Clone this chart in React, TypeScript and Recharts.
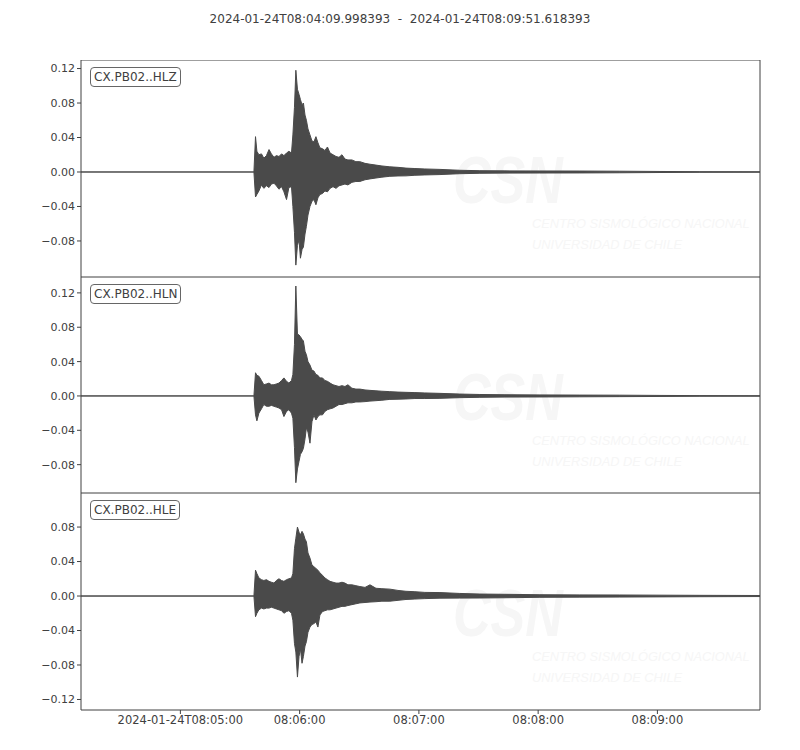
import { AreaChart, Area, XAxis, YAxis, ReferenceArea } from "recharts";

// seconds since 2024-01-24T08:04:09.998393
const times = [
  0, 87, 87.8, 88.5, 89.5, 90.8, 92, 93.3, 94.6, 95.8, 97.1, 98.3, 99.6,
  100.9, 102.1, 103.4, 104.6, 105.9, 106.6, 107.4, 108.1, 108.9, 109.7,
  110.4, 111.2, 111.9, 112.7, 113.4, 114.2, 115.2, 116.2, 117.2, 118.2,
  119.2, 120.2, 121.5, 122.7, 124, 125.3, 126.8, 128.3, 129.8, 131.3,
  132.8, 134.3, 136.3, 138.3, 140.3, 142.9, 145.4, 148.4, 151.4, 155.4,
  159.5, 163.5, 168, 173, 180.6, 190.6, 200.7, 213.3, 230.9, 251,
  271.1, 291.3, 311.4, 341.6,
];

const hlzHigh = [
  0, 0,
  0.041, 0.024, 0.02, 0.021, 0.016, 0.019, 0.026, 0.021, 0.017, 0.019, 0.018,
  0.021, 0.019, 0.022, 0.024, 0.022, 0.043, 0.075, 0.118, 0.096, 0.09,
  0.084, 0.078, 0.08, 0.066, 0.06, 0.05, 0.043, 0.036, 0.035, 0.041,
  0.034, 0.028, 0.027, 0.025, 0.029, 0.022, 0.02, 0.018, 0.017, 0.02,
  0.015, 0.014, 0.014, 0.012, 0.012, 0.01, 0.009, 0.008, 0.007, 0.006,
  0.0054, 0.0045, 0.004, 0.0035, 0.003, 0.002, 0.0015, 0.0013, 0.0012, 0.0011,
  0.0009, 0.0006, 0.0004, 0.0003,
];
const hlzLow = [
  0, 0,
  -0.029, -0.026, -0.022, -0.015, -0.019, -0.016, -0.018, -0.014, -0.013, -0.016, -0.02,
  -0.017, -0.023, -0.032, -0.018, -0.017, -0.04, -0.07, -0.108, -0.085, -0.079,
  -0.1, -0.09, -0.087, -0.072, -0.063, -0.05, -0.04, -0.034, -0.032, -0.038,
  -0.03, -0.026, -0.025, -0.022, -0.023, -0.019, -0.017, -0.019, -0.016, -0.015,
  -0.014, -0.015, -0.012, -0.011, -0.011, -0.009, -0.008, -0.007, -0.006, -0.005,
  -0.0046, -0.0045, -0.0038, -0.0034, -0.003, -0.002, -0.0015, -0.0013, -0.0012, -0.0011,
  -0.0009, -0.0006, -0.0004, -0.0003,
];

const hlnHigh = [
  0, 0,
  0.027, 0.024, 0.023, 0.018, 0.013, 0.014, 0.015, 0.013, 0.013, 0.014, 0.015,
  0.018, 0.021, 0.017, 0.015, 0.018, 0.025, 0.06, 0.128, 0.072, 0.071,
  0.069, 0.066, 0.064, 0.052, 0.048, 0.04, 0.036, 0.03, 0.029, 0.025,
  0.024, 0.021, 0.021, 0.018, 0.017, 0.015, 0.013, 0.012, 0.011, 0.012,
  0.011, 0.013, 0.009, 0.008, 0.008, 0.007, 0.0065, 0.006, 0.0055, 0.005,
  0.0045, 0.0042, 0.0039, 0.0035, 0.003, 0.0022, 0.0017, 0.0014, 0.0012, 0.001,
  0.0009, 0.0006, 0.0004, 0.0003,
];
const hlnLow = [
  0, 0,
  -0.022, -0.029, -0.02, -0.015, -0.01, -0.012, -0.012, -0.011, -0.012, -0.013, -0.014,
  -0.016, -0.024, -0.018, -0.016, -0.02, -0.026, -0.06, -0.101, -0.085, -0.076,
  -0.068, -0.065, -0.061, -0.05, -0.037, -0.042, -0.055, -0.03, -0.022, -0.028,
  -0.024, -0.022, -0.022, -0.018, -0.016, -0.015, -0.014, -0.012, -0.01, -0.01,
  -0.009, -0.008, -0.008, -0.007, -0.007, -0.0066, -0.006, -0.0055, -0.005, -0.004,
  -0.0038, -0.0035, -0.003, -0.003, -0.0028, -0.002, -0.0016, -0.0013, -0.0012, -0.001,
  -0.0008, -0.0006, -0.0004, -0.0003,
];

const hleHigh = [
  0, 0,
  0.03, 0.026, 0.021, 0.019, 0.018, 0.019, 0.017, 0.016, 0.015, 0.018, 0.02,
  0.018, 0.017, 0.019, 0.02, 0.021, 0.026, 0.055, 0.067, 0.08, 0.074,
  0.071, 0.075, 0.072, 0.066, 0.063, 0.05, 0.044, 0.036, 0.034, 0.032,
  0.03, 0.027, 0.024, 0.021, 0.019, 0.017, 0.016, 0.015, 0.015, 0.016,
  0.015, 0.013, 0.013, 0.012, 0.011, 0.01, 0.013, 0.009, 0.0085, 0.008,
  0.0065, 0.0055, 0.005, 0.0042, 0.004, 0.003, 0.0023, 0.002, 0.0015, 0.0013,
  0.0012, 0.001, 0.0008, 0.0006,
];
const hleLow = [
  0, 0,
  -0.024, -0.02, -0.016, -0.014, -0.015, -0.014, -0.014, -0.013, -0.014, -0.015, -0.016,
  -0.017, -0.02, -0.018, -0.017, -0.02, -0.028, -0.055, -0.065, -0.094, -0.07,
  -0.061, -0.078, -0.07, -0.058, -0.053, -0.042, -0.036, -0.033, -0.032, -0.03,
  -0.036, -0.022, -0.018, -0.017, -0.016, -0.016, -0.015, -0.014, -0.013, -0.012,
  -0.012, -0.011, -0.01, -0.009, -0.008, -0.0075, -0.007, -0.0066, -0.006, -0.006,
  -0.005, -0.004, -0.0035, -0.003, -0.0025, -0.0024, -0.0023, -0.002, -0.0015, -0.0013,
  -0.0012, -0.001, -0.0008, -0.0006,
];

const timeEnd = 341.62;
const xTicks = [50.0016, 110.0016, 170.0016, 230.0016, 290.0016];
const xTickLabels = ["2024-01-24T08:05:00", "08:06:00", "08:07:00", "08:08:00", "08:09:00"];
const yTicksUpper = [-0.08, -0.04, 0, 0.04, 0.08, 0.12];
const yTicksLower = [-0.12, -0.08, -0.04, 0, 0.04, 0.08];
const title = "2024-01-24T08:04:09.998393  -  2024-01-24T08:09:51.618393";

const INK = "#4a4a4a";
const TEXT = "#404040";
const FONT = "'DejaVu Sans', sans-serif";

const buildTrace = (high: number[], low: number[]) =>
  times.map((t, i) => ({ t, v: [low[i], high[i]] }));

const fmtY = (v: number) => (v < 0 ? "\u2212" : "") + Math.abs(v).toFixed(2);
const fmtX = (v: number) => xTickLabels[xTicks.indexOf(v)] ?? "";

const panels = [
  { label: "CX.PB02..HLZ", top: 60, height: 217, domain: [-0.1218, 0.1299], ticks: yTicksUpper, data: buildTrace(hlzHigh, hlzLow) },
  { label: "CX.PB02..HLN", top: 277, height: 216, domain: [-0.113, 0.1385], ticks: yTicksUpper, data: buildTrace(hlnHigh, hlnLow) },
  { label: "CX.PB02..HLE", top: 493, height: 217, domain: [-0.1322, 0.1195], ticks: yTicksLower, data: buildTrace(hleHigh, hleLow) },
];

function Watermark({ top }: { top: number }) {
  const faint = "#f6f6f6";
  const wm = "'Liberation Sans', sans-serif";
  return (
    <>
      <div style={{ position: "absolute", left: 453, top: top + 86, fontSize: 52, fontWeight: 700, fontStyle: "italic", color: faint, fontFamily: wm, lineHeight: 1, transform: "scaleY(1.3)", transformOrigin: "top left" }}>
        CSN
      </div>
      <div style={{ position: "absolute", left: 532, top: top + 153, fontSize: 12.8, fontStyle: "italic", color: faint, fontFamily: wm, lineHeight: "21px", whiteSpace: "nowrap" }}>
        CENTRO SISMOLÓGICO NACIONAL
        <br />
        UNIVERSIDAD DE CHILE
      </div>
    </>
  );
}

export default function App() {
  return (
    <div style={{ position: "absolute", left: 0, top: 0, width: 800, height: 750, background: "#fff", fontFamily: FONT }}>
      <div style={{ position: "absolute", top: 12, left: 0, width: 800, textAlign: "center", fontSize: 12, color: TEXT, whiteSpace: "pre" }}>
        {title}
      </div>
      {panels.map((p) => (
        <Watermark key={"w" + p.label} top={p.top} />
      ))}
      {panels.map((p, i) => {
        const last = i === panels.length - 1;
        return (
          <div key={p.label} style={{ position: "absolute", left: 0, top: p.top }}>
            <AreaChart
              width={800}
              height={p.height + (last ? 40 : 0)}
              data={p.data}
              margin={{ top: 0, right: 40, bottom: 0, left: 0 }}
            >
              <XAxis
                type="number"
                dataKey="t"
                domain={[0, timeEnd]}
                ticks={xTicks}
                tickFormatter={fmtX}
                hide={!last}
                height={40}
                axisLine={false}
                tickSize={4}
                tickLine={{ stroke: TEXT }}
                tick={{ fill: TEXT, fontSize: 11.5, fontFamily: FONT }}
                allowDataOverflow
              />
              <YAxis
                type="number"
                domain={p.domain}
                ticks={p.ticks}
                tickFormatter={fmtY}
                width={81}
                axisLine={false}
                tickSize={4}
                tickLine={{ stroke: TEXT }}
                tick={{ fill: TEXT, fontSize: 11, fontFamily: FONT }}
                allowDataOverflow
              />
              <Area
                type="linear"
                dataKey="v"
                stroke={INK}
                strokeWidth={1}
                fill={INK}
                fillOpacity={1}
                dot={false}
                activeDot={false}
                isAnimationActive={false}
              />
              <ReferenceArea
                x1={0}
                x2={timeEnd}
                y1={p.domain[0]}
                y2={p.domain[1]}
                fill="none"
                stroke={TEXT}
                strokeWidth={1}
                ifOverflow="visible"
              />
            </AreaChart>
            <div
              style={{
                position: "absolute",
                left: 90,
                top: 7,
                padding: "1px 3px",
                border: "1px solid #666",
                borderRadius: 4,
                background: "#fff",
                fontSize: 12,
                lineHeight: "16px",
                color: TEXT,
              }}
            >
              {p.label}
            </div>
          </div>
        );
      })}
    </div>
  );
}
